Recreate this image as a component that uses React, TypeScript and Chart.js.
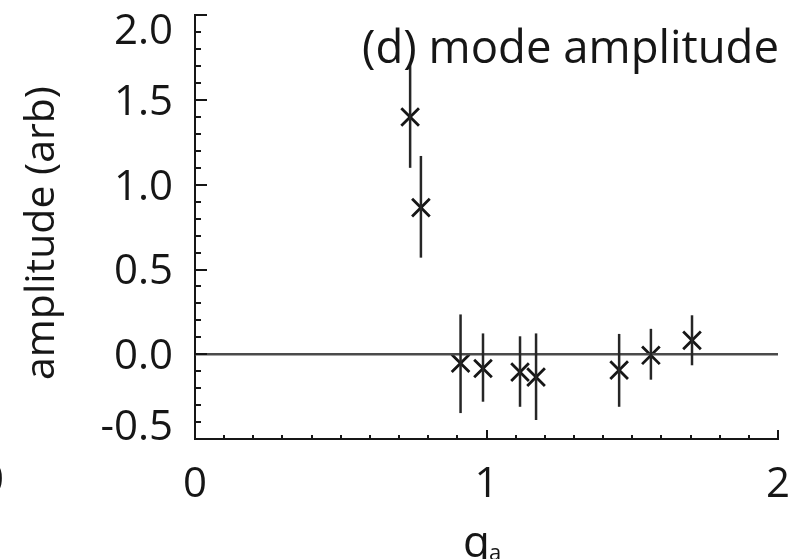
import React, { useEffect, useRef } from "react";
import { Chart, registerables } from "chart.js";

Chart.register(...registerables);

// ---- data ----
const qa = [0.738, 0.775, 0.911, 0.988, 1.115, 1.17, 1.455, 1.564, 1.705];
const amplitude = [1.4, 0.865, -0.053, -0.084, -0.105, -0.135, -0.094, -0.006, 0.082];
const errHigh = [1.71, 1.17, 0.235, 0.123, 0.106, 0.123, 0.12, 0.15, 0.23];
const errLow = [1.1, 0.57, -0.347, -0.28, -0.31, -0.388, -0.31, -0.15, -0.065];
const xTicks = [0, 1, 2];
const yTicks = [-0.5, 0.0, 0.5, 1.0, 1.5, 2.0];
const zeroLineX = [0, 2];
const zeroLineY = [0, 0];
const titleText = "(d) mode amplitude";
const yTitle = "amplitude (arb)";
const xTitleMain = "q";
const xTitleSub = "a";

const FONT = "'Open Sans', 'DejaVu Sans', sans-serif";
const INK = "#161616";

const errorBarPlugin = {
  id: "errorBars",
  afterDatasetsDraw(chart: any) {
    const { ctx, scales } = chart;
    const xs = scales.x;
    const ys = scales.y;
    ctx.save();
    ctx.strokeStyle = "#262626";
    ctx.lineWidth = 2.5;
    for (let i = 0; i < qa.length; i++) {
      const px = xs.getPixelForValue(qa[i]);
      ctx.beginPath();
      ctx.moveTo(px, ys.getPixelForValue(errHigh[i]));
      ctx.lineTo(px, ys.getPixelForValue(errLow[i]));
      ctx.stroke();
    }
    ctx.restore();
  },
};

const minorTickPlugin = {
  id: "minorTicks",
  afterDraw(chart: any) {
    const { ctx, scales, chartArea } = chart;
    const xs = scales.x;
    const ys = scales.y;
    ctx.save();
    ctx.strokeStyle = INK;
    ctx.lineWidth = 2;
    for (let i = 0; i <= 25; i++) {
      const v = ys.min + i * 0.1;
      const py = Math.round(ys.getPixelForValue(v));
      const len = i % 5 === 0 ? 12 : 6;
      ctx.beginPath();
      ctx.moveTo(chartArea.left, py);
      ctx.lineTo(chartArea.left + len, py);
      ctx.stroke();
    }
    for (let i = 0; i <= 20; i++) {
      const v = xs.min + i * 0.1;
      const px = Math.round(xs.getPixelForValue(v));
      const len = i % 10 === 0 ? 9 : 4;
      ctx.beginPath();
      ctx.moveTo(px, chartArea.bottom);
      ctx.lineTo(px, chartArea.bottom - len);
      ctx.stroke();
    }
    ctx.restore();
  },
};

const yLabelPlugin = {
  id: "yLabels",
  afterDraw(chart: any) {
    const { ctx, scales, chartArea } = chart;
    const ys = scales.y;
    ctx.save();
    ctx.fillStyle = INK;
    ctx.font = `42px ${FONT}`;
    ctx.textAlign = "right";
    ctx.textBaseline = "middle";
    const last = yTicks.length - 1;
    yTicks.forEach((v, i) => {
      let py = ys.getPixelForValue(v) + 3;
      if (i === 0) py -= 14; // bottom label pulled inside
      if (i === last) py += 14; // top label pulled inside
      ctx.fillText(v.toFixed(1), chartArea.left - 22, py);
    });
    ctx.restore();
  },
};

const textPlugin = {
  id: "texts",
  afterDraw(chart: any) {
    const { ctx, chartArea } = chart;
    ctx.save();
    ctx.fillStyle = INK;
    ctx.font = `45.5px ${FONT}`;
    ctx.textAlign = "right";
    ctx.textBaseline = "alphabetic";
    ctx.fillText(titleText, chartArea.right + 1, 63);
    ctx.save();
    ctx.translate(54, 233);
    ctx.rotate(-Math.PI / 2);
    ctx.textAlign = "center";
    ctx.font = `41px ${FONT}`;
    ctx.fillText(yTitle, 0, 0);
    ctx.restore();
    ctx.font = `44px ${FONT}`;
    ctx.textAlign = "left";
    const qw = ctx.measureText(xTitleMain).width;
    ctx.fillText(xTitleMain, 463, 557);
    ctx.font = `22px ${FONT}`;
    ctx.fillText(xTitleSub, 463 + qw - 1, 560);
    ctx.font = `42px ${FONT}`;
    ctx.textAlign = "center";
    ctx.fillText("0", -8, 493);
    ctx.restore();
  },
};

export default function App() {
  const ref = useRef<HTMLCanvasElement | null>(null);
  useEffect(() => {
    if (!ref.current) return;
    const chart = new Chart(ref.current, {
      type: "scatter",
      data: {
        datasets: [
          {
            type: "line",
            data: zeroLineX.map((x, i) => ({ x, y: zeroLineY[i] })),
            borderColor: "#4a4a4a",
            borderWidth: 2.5,
            pointRadius: 0,
            fill: false,
          } as any,
          {
            data: qa.map((x, i) => ({ x, y: amplitude[i] })),
            pointStyle: "crossRot",
            pointRadius: 12.5,
            borderColor: "#161616",
            backgroundColor: "#161616",
            pointBorderWidth: 2.8,
            borderWidth: 2.8,
          } as any,
        ],
      },
      options: {
        responsive: false,
        animation: false,
        layout: { padding: { top: 14, right: 16, left: 0, bottom: 0 } },
        plugins: { legend: { display: false }, tooltip: { enabled: false } },
        scales: {
          x: {
            type: "linear",
            min: 0,
            max: 2,
            afterBuildTicks: (s: any) => {
              s.ticks = xTicks.map((v) => ({ value: v }));
            },
            ticks: {
              font: { family: FONT, size: 42 },
              color: INK,
              padding: 13,
              maxRotation: 0,
              callback: (v: any) => String(v),
            },
            grid: { display: false },
            border: { display: true, color: INK, width: 2 },
            afterFit: (s: any) => {
              s.height = 120;
              s.paddingLeft = 0;
              s.paddingRight = 0;
            },
          },
          y: {
            type: "linear",
            min: -0.5,
            max: 2.0,
            afterBuildTicks: (s: any) => {
              s.ticks = yTicks.map((v) => ({ value: v }));
            },
            ticks: { display: false },
            grid: { display: false },
            border: { display: true, color: INK, width: 2 },
            afterFit: (s: any) => {
              s.width = 195;
              s.paddingTop = 0;
              s.paddingBottom = 0;
            },
          },
        },
      },
      plugins: [errorBarPlugin, minorTickPlugin, yLabelPlugin, textPlugin],
    } as any);
    return () => chart.destroy();
  }, []);
  return (
    <div style={{ position: "absolute", left: 0, top: 0, width: 794, height: 559, background: "#fff" }}>
      <canvas ref={ref} width={794} height={559} />
    </div>
  );
}
